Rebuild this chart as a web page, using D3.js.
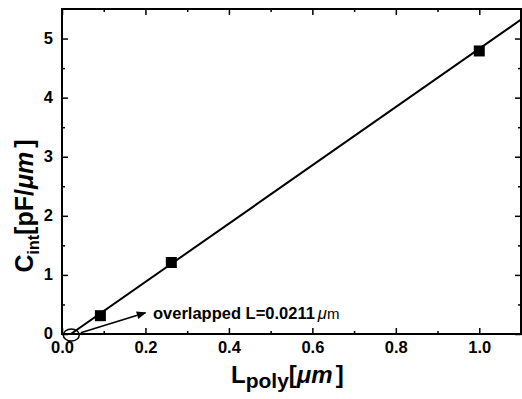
<!DOCTYPE html>
<html>
<head>
<meta charset="utf-8">
<script src="https://cdn.jsdelivr.net/npm/d3@7"></script>
<style>
  body { margin: 0; background: #fff; }
  text { font-family: "Liberation Sans", Arial, sans-serif; }
</style>
</head>
<body>
<div id="chart"></div>
<script>
// measured points
const lengths = [0.092, 0.262, 1.0];
const caps = [0.31, 1.21, 4.79];
// fitted line, starts at the overlapped length
const fitX = [0.0211, 1.1];
const fitY = [0, 5.32];
const xTicks = [0.0, 0.2, 0.4, 0.6, 0.8, 1.0];
const yTicks = [0, 1, 2, 3, 4, 5];
const overlapLabel = 'overlapped L=0.0211';

const width = 522;
const height = 399;
const margin = { top: 9, right: 1, bottom: 65, left: 62 };

const svg = d3.select('#chart')
  .append('svg')
  .attr('width', width)
  .attr('height', height);

const x = d3.scaleLinear().domain([0, 1.1]).range([margin.left, width - margin.right]);
const y = d3.scaleLinear().domain([0, 5.5]).range([height - margin.bottom, margin.top]);

const x0 = x.range()[0], x1 = x.range()[1];
const y0 = y.range()[0], y1 = y.range()[1];

// minor ticks (inward)
const xMinor = d3.range(0.1, 1.1, 0.2);
const yMinor = d3.range(0.5, 5.5, 1);

function tickStyle(g) {
  g.select('.domain').remove();
  g.selectAll('line').attr('stroke', '#000').attr('stroke-width', 1.5);
}

// bottom axis
svg.append('g')
  .attr('transform', `translate(0,${y0})`)
  .call(d3.axisBottom(x).tickValues(xTicks).tickFormat(d3.format('.1f')).tickSize(-6).tickPadding(6))
  .call(tickStyle)
  .call(g => g.selectAll('text')
    .attr('font-size', 16.5).attr('font-weight', 'bold').attr('fill', '#000').attr('dy', '0.8em'));
svg.append('g')
  .attr('transform', `translate(0,${y0})`)
  .call(d3.axisBottom(x).tickValues(xMinor).tickFormat('').tickSize(-3))
  .call(tickStyle);

// top axis ticks
svg.append('g')
  .attr('transform', `translate(0,${y1})`)
  .call(d3.axisTop(x).tickValues(xTicks).tickFormat('').tickSize(-6))
  .call(tickStyle);
svg.append('g')
  .attr('transform', `translate(0,${y1})`)
  .call(d3.axisTop(x).tickValues(xMinor).tickFormat('').tickSize(-3))
  .call(tickStyle);

// left axis
svg.append('g')
  .attr('transform', `translate(${x0},0)`)
  .call(d3.axisLeft(y).tickValues(yTicks).tickFormat(d3.format('d')).tickSize(-6).tickPadding(9))
  .call(tickStyle)
  .call(g => g.selectAll('text')
    .attr('font-size', 16.5).attr('font-weight', 'bold').attr('fill', '#000').attr('dy', '0.28em'));
svg.append('g')
  .attr('transform', `translate(${x0},0)`)
  .call(d3.axisLeft(y).tickValues(yMinor).tickFormat('').tickSize(-3))
  .call(tickStyle);

// right axis ticks
svg.append('g')
  .attr('transform', `translate(${x1},0)`)
  .call(d3.axisRight(y).tickValues(yTicks).tickFormat('').tickSize(-6))
  .call(tickStyle);
svg.append('g')
  .attr('transform', `translate(${x1},0)`)
  .call(d3.axisRight(y).tickValues(yMinor).tickFormat('').tickSize(-3))
  .call(tickStyle);

// frame
svg.append('rect')
  .attr('x', x0).attr('y', y1)
  .attr('width', x1 - x0).attr('height', y0 - y1)
  .attr('fill', 'none').attr('stroke', '#000').attr('stroke-width', 2);

// fitted line
const clipId = 'plotclip';
svg.append('clipPath').attr('id', clipId)
  .append('rect').attr('x', x0).attr('y', y1).attr('width', x1 - x0).attr('height', y0 - y1);

svg.append('path')
  .datum(fitX.map((d, i) => [d, fitY[i]]))
  .attr('clip-path', `url(#${clipId})`)
  .attr('d', d3.line().x(d => x(d[0])).y(d => y(d[1])))
  .attr('fill', 'none')
  .attr('stroke', '#000')
  .attr('stroke-width', 2);

// square markers
svg.selectAll('rect.pt')
  .data(lengths)
  .enter()
  .append('rect')
  .attr('class', 'pt')
  .attr('x', d => x(d) - 5.5)
  .attr('y', (d, i) => y(caps[i]) - 5.5)
  .attr('width', 11)
  .attr('height', 11)
  .attr('fill', '#000');

// circle at the overlapped length
svg.append('ellipse')
  .attr('cx', x(0.0211) + 0.5)
  .attr('cy', y(0) + 1)
  .attr('rx', 8)
  .attr('ry', 6)
  .attr('fill', 'none')
  .attr('stroke', '#000')
  .attr('stroke-width', 1.5);

// arrow
svg.append('defs').append('marker')
  .attr('id', 'arrow')
  .attr('viewBox', '0 0 10 10')
  .attr('refX', 9).attr('refY', 5)
  .attr('markerWidth', 7).attr('markerHeight', 6)
  .attr('orient', 'auto')
  .append('path').attr('d', 'M0,1 L10,5 L0,9 Z').attr('fill', '#000');

svg.append('line')
  .attr('x1', x(0.045)).attr('y1', y(0.02))
  .attr('x2', x(0.2)).attr('y2', y(0.36))
  .attr('stroke', '#000')
  .attr('stroke-width', 1.6)
  .attr('marker-end', 'url(#arrow)');

const note = svg.append('text')
  .attr('x', x(0.218))
  .attr('y', y(0.26))
  .attr('font-size', 16.5)
  .attr('font-weight', 'bold')
  .attr('fill', '#000');
note.append('tspan').text(overlapLabel);
note.append('tspan').attr('font-weight', 'normal').attr('font-style', 'italic').attr('dx', 3).text('μ');
note.append('tspan').attr('font-weight', 'normal').attr('font-size', 15).text('m');

// x title
const xt = svg.append('text')
  .attr('x', 231)
  .attr('y', 383)
  .attr('font-size', 24)
  .attr('font-weight', 'bold')
  .attr('fill', '#000');
xt.append('tspan').text('L');
xt.append('tspan').attr('font-size', 21).attr('dy', 5).text('poly');
xt.append('tspan').attr('dy', -5).text('[');
xt.append('tspan').attr('font-style', 'italic').text('μm');
xt.append('tspan').attr('dx', 3).text(']');

// y title
const yt = svg.append('text')
  .attr('transform', 'translate(33,206) rotate(-90)')
  .attr('text-anchor', 'middle')
  .attr('font-size', 25)
  .attr('font-weight', 'bold')
  .attr('fill', '#000');
yt.append('tspan').text('C');
yt.append('tspan').attr('font-size', 16).attr('dy', 6).text('int');
yt.append('tspan').attr('dy', -6).text('[pF/');
yt.append('tspan').attr('font-style', 'italic').text('μm');
yt.append('tspan').attr('dx', 4).text(']');
</script>
</body>
</html>
